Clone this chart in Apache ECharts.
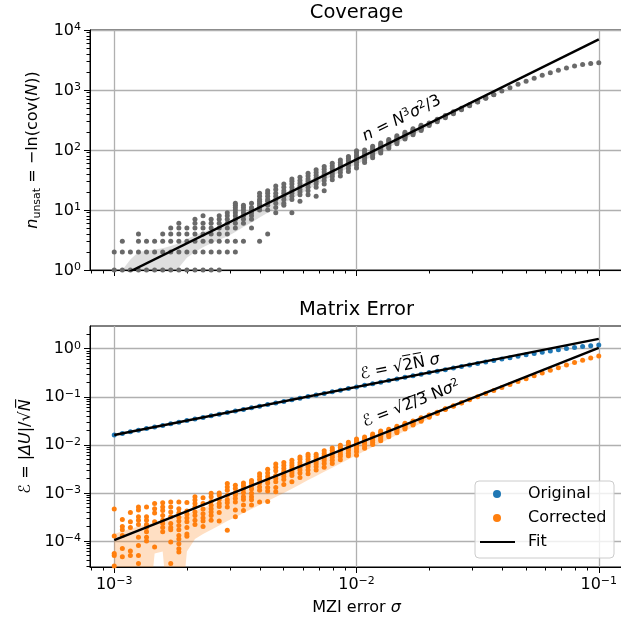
<!DOCTYPE html>
<html>
<head>
<meta charset="utf-8">
<script src="https://cdn.jsdelivr.net/npm/echarts@6/dist/echarts.min.js"></script>
<style>
  html, body { margin: 0; padding: 0; background: #fff; }
  #chart { width: 621px; height: 622px; }
</style>
</head>
<body>
<div id="chart"></div>
<script>
// MZI error sigma, one entry per column of samples
const sigma = [0.001, 0.00108, 0.001166, 0.001259, 0.001359, 0.001468, 0.001585, 0.001711, 0.001848, 0.001995,
  0.002154, 0.002326, 0.002512, 0.002712, 0.002929, 0.003162, 0.003415, 0.003687, 0.003981, 0.004299,
  0.004642, 0.005012, 0.005412, 0.005843, 0.00631, 0.006813, 0.007356, 0.007943, 0.008577, 0.009261,
  0.01, 0.0108, 0.01166, 0.01259, 0.01359, 0.01468, 0.01585, 0.01711, 0.01848, 0.01995,
  0.02154, 0.02326, 0.02512, 0.02712, 0.02929, 0.03162, 0.03415, 0.03687, 0.03981, 0.04299,
  0.04642, 0.05012, 0.05412, 0.05843, 0.0631, 0.06813, 0.07356, 0.07943, 0.08577, 0.09261, 0.1];

// top panel: n_unsat samples per sigma column
const coverage = [
  [1, 2], [1, 2, 3], [1, 2], [1, 2, 3, 4], [1, 2, 3], [1, 2, 3], [1, 2, 3, 4], [1, 2, 3, 4, 5],
  [1, 2, 3, 4, 5, 6], [1, 2, 3, 4, 5], [1, 2, 3, 4, 5, 6, 7], [1, 2, 3, 4, 5, 6, 8], [1, 2, 3, 4, 5, 6, 7],
  [1, 2, 3, 4, 5, 6, 7, 8], [2, 3, 4, 5, 6, 7, 8, 9], [2, 3, 5, 6, 7, 8, 9, 10, 11, 12, 13],
  [3, 6, 7, 8, 9, 10, 11, 12], [5, 7, 8, 9, 10, 11, 13], [3, 10, 11, 12, 13, 14, 15, 17, 19],
  [4, 10, 12, 14, 15, 17, 19, 21], [9, 11, 13, 15, 17, 19, 22, 25], [12, 13, 15, 17, 19, 21, 24, 27],
  [9, 15, 17, 19, 21, 24, 27, 30, 33], [14, 18, 20, 22, 25, 28, 31, 35], [18, 21, 24, 27, 30, 33, 37, 41],
  [17, 24, 27, 30, 34, 38, 42, 47], [21, 27, 31, 35, 39, 43, 48, 53], [32, 36, 40, 44, 49, 54, 60],
  [37, 42, 47, 52, 57, 62, 68], [44, 49, 55, 60, 66, 72, 78], [50, 56, 62, 68, 75, 82, 90, 97],
  [62, 68, 74, 80, 86, 93, 100], [74, 80, 87, 94, 101, 108, 116], [89, 95, 102, 109, 116, 124, 131],
  [107, 113, 120, 127, 134, 142, 150], [127, 134, 141, 148, 156, 164, 172], [152, 159, 166, 173, 181, 189, 197],
  [180, 188, 195, 202, 210, 218, 226], [212, 220, 228, 235, 243, 251, 259], [255, 268, 282],
  [296, 311, 326], [345, 360, 376], [402, 417, 432], [468, 481, 495], [544, 555, 567], [630, 639, 648],
  [726, 734, 742], [835, 841], [961], [1094], [1241], [1401], [1574], [1757], [1946], [2138], [2327],
  [2502], [2655], [2774], [2848]];
const coverageLo = [0.2, 0.3, 0.4, 0.5, 0.6, 0.65, 0.7, 0.85, 1.1, 1.6, 2.0, 2.4, 2.8, 3.2, 3.6, 4.3, 5.2, 6.2, 7.5, 9,
  11, 13, 15.5, 18.5, 22, 26, 31, 37, 43, 50, 58, 67, 79, 93, 110, 129, 151, 177, 207, 250,
  294, 345, 404, 470, 546, 631, 728, 836, 955, 1088, 1235, 1394, 1566, 1748, 1936, 2127, 2315, 2490, 2642, 2760, 2834];
const coverageHi = [0.6, 1.0, 1.5, 2.0, 2.1, 2.2, 2.3, 2.5, 2.8, 3.3, 3.8, 4.3, 4.8, 5.4, 6.2, 7.2, 8.3, 9.5, 11, 13,
  15.5, 19, 22, 26, 30, 35, 40, 46, 53, 61, 71, 83, 97, 113, 132, 154, 180, 210, 244, 280,
  323, 372, 429, 492, 565, 648, 742, 848, 968, 1101, 1248, 1409, 1583, 1767, 1957, 2150, 2340, 2515, 2669, 2789, 2863];

// bottom panel: matrix error
const original = [0.016, 0.01728, 0.01865, 0.02014, 0.02175, 0.02348, 0.02536, 0.02738, 0.02956, 0.03192,
  0.03447, 0.03722, 0.04019, 0.0434, 0.04686, 0.0506, 0.05463, 0.05899, 0.0637, 0.06878,
  0.07427, 0.08019, 0.08659, 0.09349, 0.101, 0.109, 0.1177, 0.1271, 0.1372, 0.1482,
  0.16, 0.1728, 0.1865, 0.2014, 0.2175, 0.2348, 0.2536, 0.2738, 0.2956, 0.3192,
  0.3401, 0.3665, 0.3947, 0.4249, 0.4572, 0.4916, 0.5283, 0.5673, 0.6086, 0.6522,
  0.6981, 0.7459, 0.7959, 0.8475, 0.9007, 0.9535, 1.007, 1.06, 1.11, 1.158, 1.2];
const corrected = [
  [4.6e-4, 1.27e-4, 5.5e-5, 5e-5, 3e-5], [2.8e-4, 2e-4, 1.7e-4, 1.3e-4, 7e-5, 4.7e-5],
  [3.9e-4, 2.5e-4, 1.9e-4, 6.2e-5, 5e-5], [5.1e-4, 4.4e-4, 3.2e-4, 2.7e-4, 2.2e-4, 1.2e-4, 8e-5, 5e-5, 3.4e-5],
  [5.1e-4, 3.2e-4, 2.7e-4, 2.2e-4, 1.9e-4, 1.55e-4, 1.2e-4, 1e-4], [6e-4, 4.7e-4, 3.8e-4, 2.5e-4, 7.5e-5],
  [6.2e-4, 5.1e-4, 4.3e-4, 3.4e-4, 2.7e-4, 2.3e-4, 1.9e-4, 1.55e-4],
  [6.5e-4, 5.1e-4, 4e-4, 3.2e-4, 2.3e-4, 1.9e-4, 1.7e-4, 9.5e-5, 3.4e-5],
  [6.5e-4, 4.7e-4, 3.8e-4, 3.1e-4, 2.6e-4, 2.1e-4, 1.7e-4, 1.3e-4, 1.1e-4, 8.7e-5, 6.9e-5, 5.9e-5],
  [6.3e-4, 4.2e-4, 3.6e-4, 3e-4, 2.5e-4, 1.9e-4, 1.4e-4, 1.25e-4],
  [8.3e-4, 7.1e-4, 6e-4, 5.1e-4, 4e-4, 3.4e-4, 2.7e-4, 2.2e-4], [7.9e-4, 6e-4, 4.6e-4, 3.7e-4, 3e-4, 2.6e-4, 2e-4],
  [9.8e-4, 8.3e-4, 6.6e-4, 5.5e-4, 4.7e-4, 4e-4, 3.4e-4, 2.7e-4], [1e-3, 9e-4, 7.3e-4, 6e-4, 5.2e-4, 3.9e-4, 2.6e-4],
  [1.56e-3, 1.33e-3, 1.14e-3, 8.9e-4, 7.2e-4, 6.2e-4, 5.1e-4, 1.67e-4],
  [1.45e-3, 1.23e-3, 1.01e-3, 9e-4, 7.6e-4, 6.5e-4, 4.4e-4, 3.2e-4],
  [1.6e-3, 1.4e-3, 1.2e-3, 1.01e-3, 8.3e-4, 7.3e-4, 5.6e-4, 4.3e-4],
  [1.8e-3, 1.6e-3, 1.4e-3, 1.2e-3, 9.8e-4, 8.3e-4, 7.2e-4, 5.6e-4],
  [2.5e-3, 2.2e-3, 1.9e-3, 1.6e-3, 1.33e-3, 1.14e-3, 6.5e-4],
  [3.1e-3, 2.6e-3, 2.2e-3, 1.9e-3, 1.6e-3, 1.3e-3, 1.1e-3, 6.6e-4],
  [4e-3, 3.4e-3, 2.9e-3, 2.3e-3, 2e-3, 1.7e-3, 1.3e-3, 1.05e-3],
  [1.5e-3, 1.9e-3, 2.2e-3, 2.5e-3, 2.8e-3, 3.2e-3, 3.7e-3, 4.3e-3],
  [1.7e-3, 2.3e-3, 2.6e-3, 2.9e-3, 3.3e-3, 3.7e-3, 4.2e-3, 4.8e-3],
  [2.1e-3, 2.6e-3, 3.0e-3, 3.4e-3, 3.8e-3, 4.3e-3, 5.0e-3, 5.6e-3],
  [2.5e-3, 3.0e-3, 3.5e-3, 3.9e-3, 4.4e-3, 5.0e-3, 5.7e-3, 6.4e-3],
  [3.0e-3, 3.5e-3, 4.0e-3, 4.5e-3, 5.1e-3, 5.7e-3, 6.4e-3],
  [3.4e-3, 4.1e-3, 4.7e-3, 5.3e-3, 5.9e-3, 6.6e-3, 7.5e-3],
  [4.1e-3, 4.8e-3, 5.5e-3, 6.2e-3, 6.9e-3, 7.7e-3, 8.6e-3],
  [4.9e-3, 5.7e-3, 6.4e-3, 7.2e-3, 8.0e-3, 8.9e-3, 9.8e-3],
  [5.9e-3, 6.7e-3, 7.6e-3, 8.5e-3, 9.3e-3, 1.03e-2, 1.13e-2],
  [6.1e-3, 7.2e-3, 8.2e-3, 9.2e-3, 1.01e-2, 1.1e-2, 1.2e-2, 1.32e-2],
  [8.5e-3, 9.5e-3, 1.05e-2, 1.15e-2, 1.25e-2, 1.35e-2, 1.46e-2],
  [1.02e-2, 1.12e-2, 1.23e-2, 1.34e-2, 1.45e-2, 1.56e-2, 1.68e-2],
  [1.22e-2, 1.33e-2, 1.45e-2, 1.57e-2, 1.69e-2, 1.82e-2, 1.95e-2],
  [1.48e-2, 1.6e-2, 1.72e-2, 1.85e-2, 1.98e-2, 2.1e-2],
  [1.78e-2, 1.9e-2, 2.03e-2, 2.16e-2, 2.3e-2, 2.44e-2],
  [2.14e-2, 2.27e-2, 2.41e-2, 2.55e-2, 2.69e-2, 2.82e-2],
  [2.58e-2, 2.72e-2, 2.86e-2, 3.0e-2, 3.14e-2], [3.1e-2, 3.25e-2, 3.4e-2, 3.54e-2, 3.67e-2],
  [3.75e-2, 3.9e-2, 4.05e-2, 4.2e-2], [4.5e-2, 4.64e-2, 4.78e-2], [5.42e-2, 5.54e-2, 5.66e-2],
  [6.36e-2, 6.5e-2], [7.4e-2, 7.52e-2], [0.0866], [0.1004], [0.1163], [0.1346], [0.1555], [0.1795],
  [0.2067], [0.2376], [0.2726], [0.3117], [0.3554], [0.4037], [0.4564], [0.5137], [0.5744], [0.6382], [0.7033]];
const correctedLo = [1e-6, 1e-6, 1e-6, 1e-6, 1e-6, 5.5e-5, 6e-5, 1e-6, 1e-6, 6e-5,
  1.1e-4, 1.4e-4, 1.7e-4, 2.1e-4, 2.6e-4, 3.1e-4, 3.8e-4, 4.6e-4, 5.6e-4, 6.8e-4,
  8.2e-4, 1.0e-3, 1.22e-3, 1.5e-3, 1.85e-3, 2.25e-3, 2.75e-3, 3.35e-3, 4.1e-3, 5.0e-3,
  6.1e-3, 7.4e-3, 9.0e-3, 1.09e-2, 1.32e-2, 1.6e-2, 1.93e-2, 2.33e-2, 2.8e-2, 3.6e-2,
  4.4e-2, 5.35e-2, 6.3e-2, 7.35e-2, 0.0853, 0.0989, 0.1146, 0.1326, 0.1532, 0.1768,
  0.2036, 0.234, 0.2685, 0.307, 0.3501, 0.3976, 0.4496, 0.506, 0.5658, 0.6286, 0.6928];
const correctedHi = [1.4e-4, 1.6e-4, 1.8e-4, 2.0e-4, 2.2e-4, 2.4e-4, 2.6e-4, 2.9e-4, 3.2e-4, 3.6e-4,
  4.3e-4, 4.9e-4, 5.6e-4, 6.8e-4, 8.0e-4, 9.4e-4, 1.1e-3, 1.3e-3, 1.52e-3, 1.78e-3,
  2.08e-3, 2.43e-3, 2.83e-3, 3.3e-3, 3.85e-3, 4.5e-3, 5.25e-3, 6.1e-3, 7.1e-3, 8.3e-3,
  9.7e-3, 1.13e-2, 1.32e-2, 1.54e-2, 1.8e-2, 2.1e-2, 2.45e-2, 2.86e-2, 3.33e-2, 4.15e-2,
  4.8e-2, 5.68e-2, 6.55e-2, 7.56e-2, 0.0879, 0.1019, 0.118, 0.1366, 0.1578, 0.1822,
  0.2098, 0.2412, 0.2767, 0.3164, 0.3607, 0.4098, 0.4632, 0.5214, 0.583, 0.6478, 0.7138];

// fitted power laws (end points)
const fitSigma = [0.001, 0.1];
const fitCoverage = [0.699, 6990];
const fitOriginal = [0.016, 1.6];
const fitCorrected = [1.045e-4, 1.045];

// axes
const xRange = [7.943e-4, 0.12589];
const covRange = [1, 10000];
const errRange = [2.87e-5, 2.97];
const xTicks = [1e-3, 1e-2, 1e-1];
const xMinor = [8e-4, 9e-4, 2e-3, 3e-3, 4e-3, 5e-3, 6e-3, 7e-3, 8e-3, 9e-3,
  2e-2, 3e-2, 4e-2, 5e-2, 6e-2, 7e-2, 8e-2, 9e-2];
const covTicks = [1, 10, 100, 1000, 10000];
const covMinor = [2, 3, 4, 5, 6, 7, 8, 9, 20, 30, 40, 50, 60, 70, 80, 90,
  200, 300, 400, 500, 600, 700, 800, 900, 2000, 3000, 4000, 5000, 6000, 7000, 8000, 9000];
const errTicks = [1e-4, 1e-3, 1e-2, 1e-1, 1];
const errMinor = [3e-5, 4e-5, 5e-5, 6e-5, 7e-5, 8e-5, 9e-5,
  2e-4, 3e-4, 4e-4, 5e-4, 6e-4, 7e-4, 8e-4, 9e-4,
  2e-3, 3e-3, 4e-3, 5e-3, 6e-3, 7e-3, 8e-3, 9e-3,
  2e-2, 3e-2, 4e-2, 5e-2, 6e-2, 7e-2, 8e-2, 9e-2,
  0.2, 0.3, 0.4, 0.5, 0.6, 0.7, 0.8, 0.9, 2];

const FONT = 'DejaVu Sans';
const GRAY = '#696969', BLUE = '#1f77b4', ORANGE = '#ff7f0e';

function columns(cols) {
  const out = [];
  cols.forEach((vals, i) => vals.forEach(v => out.push([sigma[i], v])));
  return out;
}

function powLabel(v) {
  const e = Math.round(Math.log10(v));
  return '{b|10}{s|' + (e < 0 ? '\u2212' + (-e) : e) + '}';
}
const powRich = {
  b: { fontFamily: FONT, fontSize: 16, lineHeight: 17, verticalAlign: 'bottom', color: '#000' },
  s: { fontFamily: FONT, fontSize: 11, lineHeight: 17, verticalAlign: 'top', color: '#000' }
};
// rich styles for math-like names
const mathRich = {
  r: { fontFamily: FONT, fontSize: 16, lineHeight: 18, verticalAlign: 'top', color: '#000' },
  i: { fontFamily: FONT, fontSize: 16, fontStyle: 'italic', lineHeight: 18, verticalAlign: 'top', color: '#000' },
  sub: { fontFamily: FONT, fontSize: 11, lineHeight: 18, verticalAlign: 'bottom', color: '#000' }
};
const annRich = {
  r: { fontFamily: FONT, fontSize: 16, lineHeight: 17, verticalAlign: 'bottom', fill: '#000' },
  i: { fontFamily: FONT, fontSize: 16, fontStyle: 'italic', lineHeight: 17, verticalAlign: 'bottom', fill: '#000' },
  s: { fontFamily: FONT, fontSize: 11, lineHeight: 17, verticalAlign: 'top', fill: '#000' }
};

function mainAxis(gi, range, ticks, pos, showLabels, extra) {
  return Object.assign({
    type: 'log', logBase: 10, gridIndex: gi, min: range[0], max: range[1], position: pos,
    axisLine: { show: true, onZero: false, lineStyle: { color: '#000', width: 1 } },
    axisTick: { show: true, customValues: ticks, length: 6, lineStyle: { color: '#000', width: 1 } },
    axisLabel: { show: showLabels, customValues: ticks, formatter: powLabel, rich: powRich, margin: 9 },
    splitLine: { show: true, lineStyle: { color: '#b0b0b0', width: 1.3 } },
    minorTick: { show: false }, minorSplitLine: { show: false }
  }, extra || {});
}
function minorAxis(gi, range, ticks, pos) {
  return {
    type: 'log', logBase: 10, gridIndex: gi, min: range[0], max: range[1], position: pos,
    axisLine: { show: false },
    axisTick: { show: true, customValues: ticks, length: 3.5, lineStyle: { color: '#000', width: 1 } },
    axisLabel: { show: false }, splitLine: { show: false }
  };
}
function band(lo, hi, color, ai) {
  return {
    type: 'custom', xAxisIndex: ai, yAxisIndex: ai, clip: true, silent: true, z: 1,
    data: [[sigma[0], hi[0]]],
    renderItem: function (params, api) {
      const pts = [];
      for (let i = 0; i < sigma.length; i++) pts.push(api.coord([sigma[i], hi[i]]));
      for (let i = sigma.length - 1; i >= 0; i--) pts.push(api.coord([sigma[i], lo[i]]));
      return { type: 'polygon', shape: { points: pts }, style: { fill: color } };
    }
  };
}
function fitLine(ys, ai) {
  return {
    type: 'line', name: 'Fit', xAxisIndex: ai, yAxisIndex: ai, clip: true, z: 3,
    data: fitSigma.map((s, i) => [s, ys[i]]), symbol: 'none', showSymbol: false,
    lineStyle: { color: '#000', width: 2.4 }, itemStyle: { color: '#000' }
  };
}
function legendItem(name, icon, left, top, w, h, pad) {
  return {
    data: [{ name: name, icon: icon }], left: left, top: top, orient: 'vertical',
    itemWidth: w, itemHeight: h, padding: 0, selectedMode: false, z: 5,
    textStyle: { fontFamily: FONT, fontSize: 16, color: '#000', padding: [0, 0, 0, pad] }
  };
}

const chart = echarts.init(document.getElementById('chart'));
chart.setOption({
  animation: false,
  backgroundColor: '#fff',
  textStyle: { fontFamily: FONT },
  grid: [
    { left: 90, top: 30, width: 533, height: 240, show: true, borderColor: '#000', borderWidth: 1,
      backgroundColor: 'rgba(0,0,0,0)', containLabel: false, outerBoundsMode: 'none' },
    { left: 90, top: 326, width: 533, height: 241, show: true, borderColor: '#000', borderWidth: 1,
      backgroundColor: 'rgba(0,0,0,0)', containLabel: false, outerBoundsMode: 'none' }
  ],
  xAxis: [
    mainAxis(0, xRange, xTicks, 'bottom', false),
    minorAxis(0, xRange, xMinor, 'bottom'),
    mainAxis(1, xRange, xTicks, 'bottom', true, {
      name: '{r|MZI error }{i|σ}', nameLocation: 'middle', nameGap: 33,
      nameTextStyle: { rich: mathRich }
    }),
    minorAxis(1, xRange, xMinor, 'bottom')
  ],
  yAxis: [
    mainAxis(0, covRange, covTicks, 'left', true, {
      name: '{i|n}{sub|unsat}{r| = \u2212ln(cov(}{i|N}{r|))}', nameLocation: 'middle', nameGap: 45,
      nameRotate: 90, nameTextStyle: { rich: mathRich }
    }),
    minorAxis(0, covRange, covMinor, 'left'),
    mainAxis(1, errRange, errTicks, 'left', true, {
      name: '{r|\u2130 = |}{i|ΔU}{r||/√}{i|N\u0305}', nameLocation: 'middle', nameGap: 54,
      nameRotate: 90, nameTextStyle: { rich: mathRich }
    }),
    minorAxis(1, errRange, errMinor, 'left')
  ],
  legend: [
    legendItem('Original', 'circle', 493, 486, 8, 8, 22),
    legendItem('Corrected', 'circle', 493, 510, 8, 8, 22),
    legendItem('Fit', 'rect', 480, 534, 35, 2, 8)
  ],
  graphic: [
    { type: 'rect', z: 3.5, shape: { x: 475, y: 481, width: 139, height: 77, r: 4 },
      style: { fill: 'rgba(255,255,255,0.8)', stroke: '#cccccc', lineWidth: 1 } },
    { type: 'text', x: 356.5, y: 13, style: { text: 'Coverage', fontFamily: FONT, fontSize: 19.5,
      fill: '#000', align: 'center', verticalAlign: 'middle' } },
    { type: 'text', x: 356.5, y: 309.5, style: { text: 'Matrix Error', fontFamily: FONT, fontSize: 19.5,
      fill: '#000', align: 'center', verticalAlign: 'middle' } },
    { type: 'text', x: 401.5, y: 118, rotation: 0.459, z: 4, style: {
      text: '{i|n}{r| = }{i|N}{s|3}{i|σ}{s|2}{r|/3}', rich: annRich, fontFamily: FONT, fontSize: 16,
      align: 'center', verticalAlign: 'middle' } },
    { type: 'text', x: 400, y: 366.5, rotation: 0.196, z: 4, style: {
      text: '{r|\u2130 = √2\u0305N\u0305 }{i|σ}', rich: annRich, fontFamily: FONT, fontSize: 16,
      align: 'center', verticalAlign: 'middle' } },
    { type: 'text', x: 411, y: 403.5, rotation: 0.377, z: 4, style: {
      text: '{r|\u2130 = √2\u0305/\u03053\u0305 N}{i|σ}{s|2}', rich: annRich, fontFamily: FONT, fontSize: 16,
      align: 'center', verticalAlign: 'middle' } }
  ],
  series: [
    band(coverageLo, coverageHi, 'rgba(105,105,105,0.22)', 0),
    { type: 'scatter', name: 'Coverage', xAxisIndex: 0, yAxisIndex: 0, clip: true, z: 2,
      data: columns(coverage), symbolSize: 5, itemStyle: { color: GRAY, opacity: 1 } },
    fitLine(fitCoverage, 0),
    band(correctedLo, correctedHi, 'rgba(255,127,14,0.25)', 2),
    { type: 'scatter', name: 'Original', xAxisIndex: 2, yAxisIndex: 2, clip: true, z: 2,
      data: sigma.map((s, i) => [s, original[i]]), symbolSize: 5, itemStyle: { color: BLUE, opacity: 1 } },
    { type: 'scatter', name: 'Corrected', xAxisIndex: 2, yAxisIndex: 2, clip: true, z: 2,
      data: columns(corrected), symbolSize: 5, itemStyle: { color: ORANGE, opacity: 1 } },
    fitLine(fitOriginal, 2),
    fitLine(fitCorrected, 2)
  ]
});
</script>
</body>
</html>
